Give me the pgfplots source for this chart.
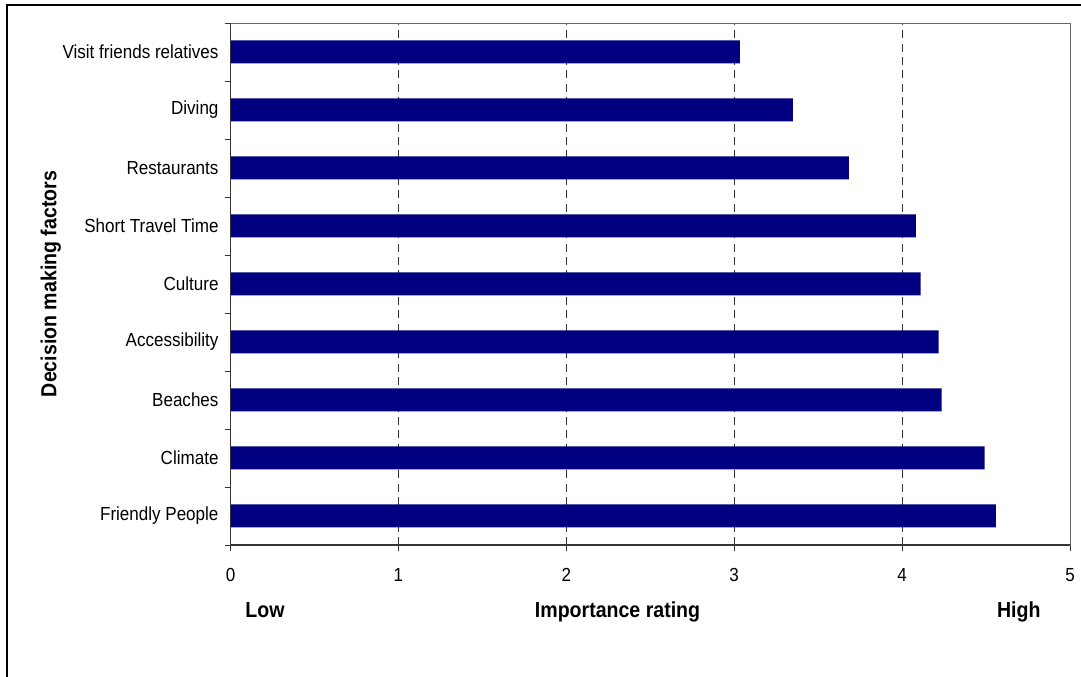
\documentclass[border=0pt]{standalone}
\usepackage{fontspec}
\setmainfont[FakeStretch=0.9]{Liberation Sans}
\usepackage{pgfplots}
\pgfplotsset{compat=1.18}
\definecolor{barblue}{RGB}{0,0,128}
\begin{document}
\begin{tikzpicture}
\useasboundingbox (0,0) rectangle (810.75pt,507.75pt);
\draw[line width=0.9pt] (5.25pt,-2pt) -- (5.25pt,504pt) -- (812pt,504pt);
\begin{axis}[
  at={(172.9pt,99pt)}, anchor=south west,
  scale only axis, width=629.6pt, height=391.5pt,
  xmin=0, xmax=5, ymin=-0.5, ymax=8.5,
  xtick={0,1,2,3,4,5},
  xtick pos=bottom, ytick pos=left,
  tick align=outside,
  major tick length=4.5pt,
  ytick={-0.5,0.5,1.5,2.5,3.5,4.5,5.5,6.5,7.5,8.5},
  y tick label as interval,
  yticklabels={Friendly People,Climate,Beaches,Accessibility,Culture,Short Travel Time,Restaurants,Diving,Visit friends relatives},
  tick style={draw=black!80, line width=0.6pt},
  tick label style={font=\fontsize{14.2pt}{16pt}\selectfont},
  yticklabel style={xshift=-1pt},
  xticklabel style={yshift=-9.5pt},
  /pgf/number format/assume math mode=true,
  xmajorgrids,
  major x grid style={draw=black!80, line width=0.6pt, dash pattern=on 6pt off 4pt},
  axis line style={draw=black!60, line width=0.6pt},
  clip=false,
]
\addplot[xbar, bar width=17.25pt, fill=barblue, draw=none] coordinates {
  (4.558,0) (4.492,1) (4.236,2) (4.218,3) (4.111,4) (4.082,5) (3.683,6) (3.349,7) (3.034,8)
};
\draw[line width=1.3pt, black!80] (rel axis cs:0,1) -- (rel axis cs:0,0) -- (rel axis cs:1,0);
\node[anchor=base, font=\bfseries\fontsize{16.3pt}{18pt}\selectfont] at (rel axis cs:0.041,-0.138) {Low};
\node[anchor=base, font=\bfseries\fontsize{16.3pt}{18pt}\selectfont] at (rel axis cs:0.461,-0.138) {Importance rating};
\node[anchor=base, font=\bfseries\fontsize{16.3pt}{18pt}\selectfont] at (rel axis cs:0.939,-0.138) {High};
\node[rotate=90, font=\bfseries\fontsize{16.3pt}{18pt}\selectfont] at (rel axis cs:-0.214,0.5) {Decision making factors};
\end{axis}
\end{tikzpicture}
\end{document}
